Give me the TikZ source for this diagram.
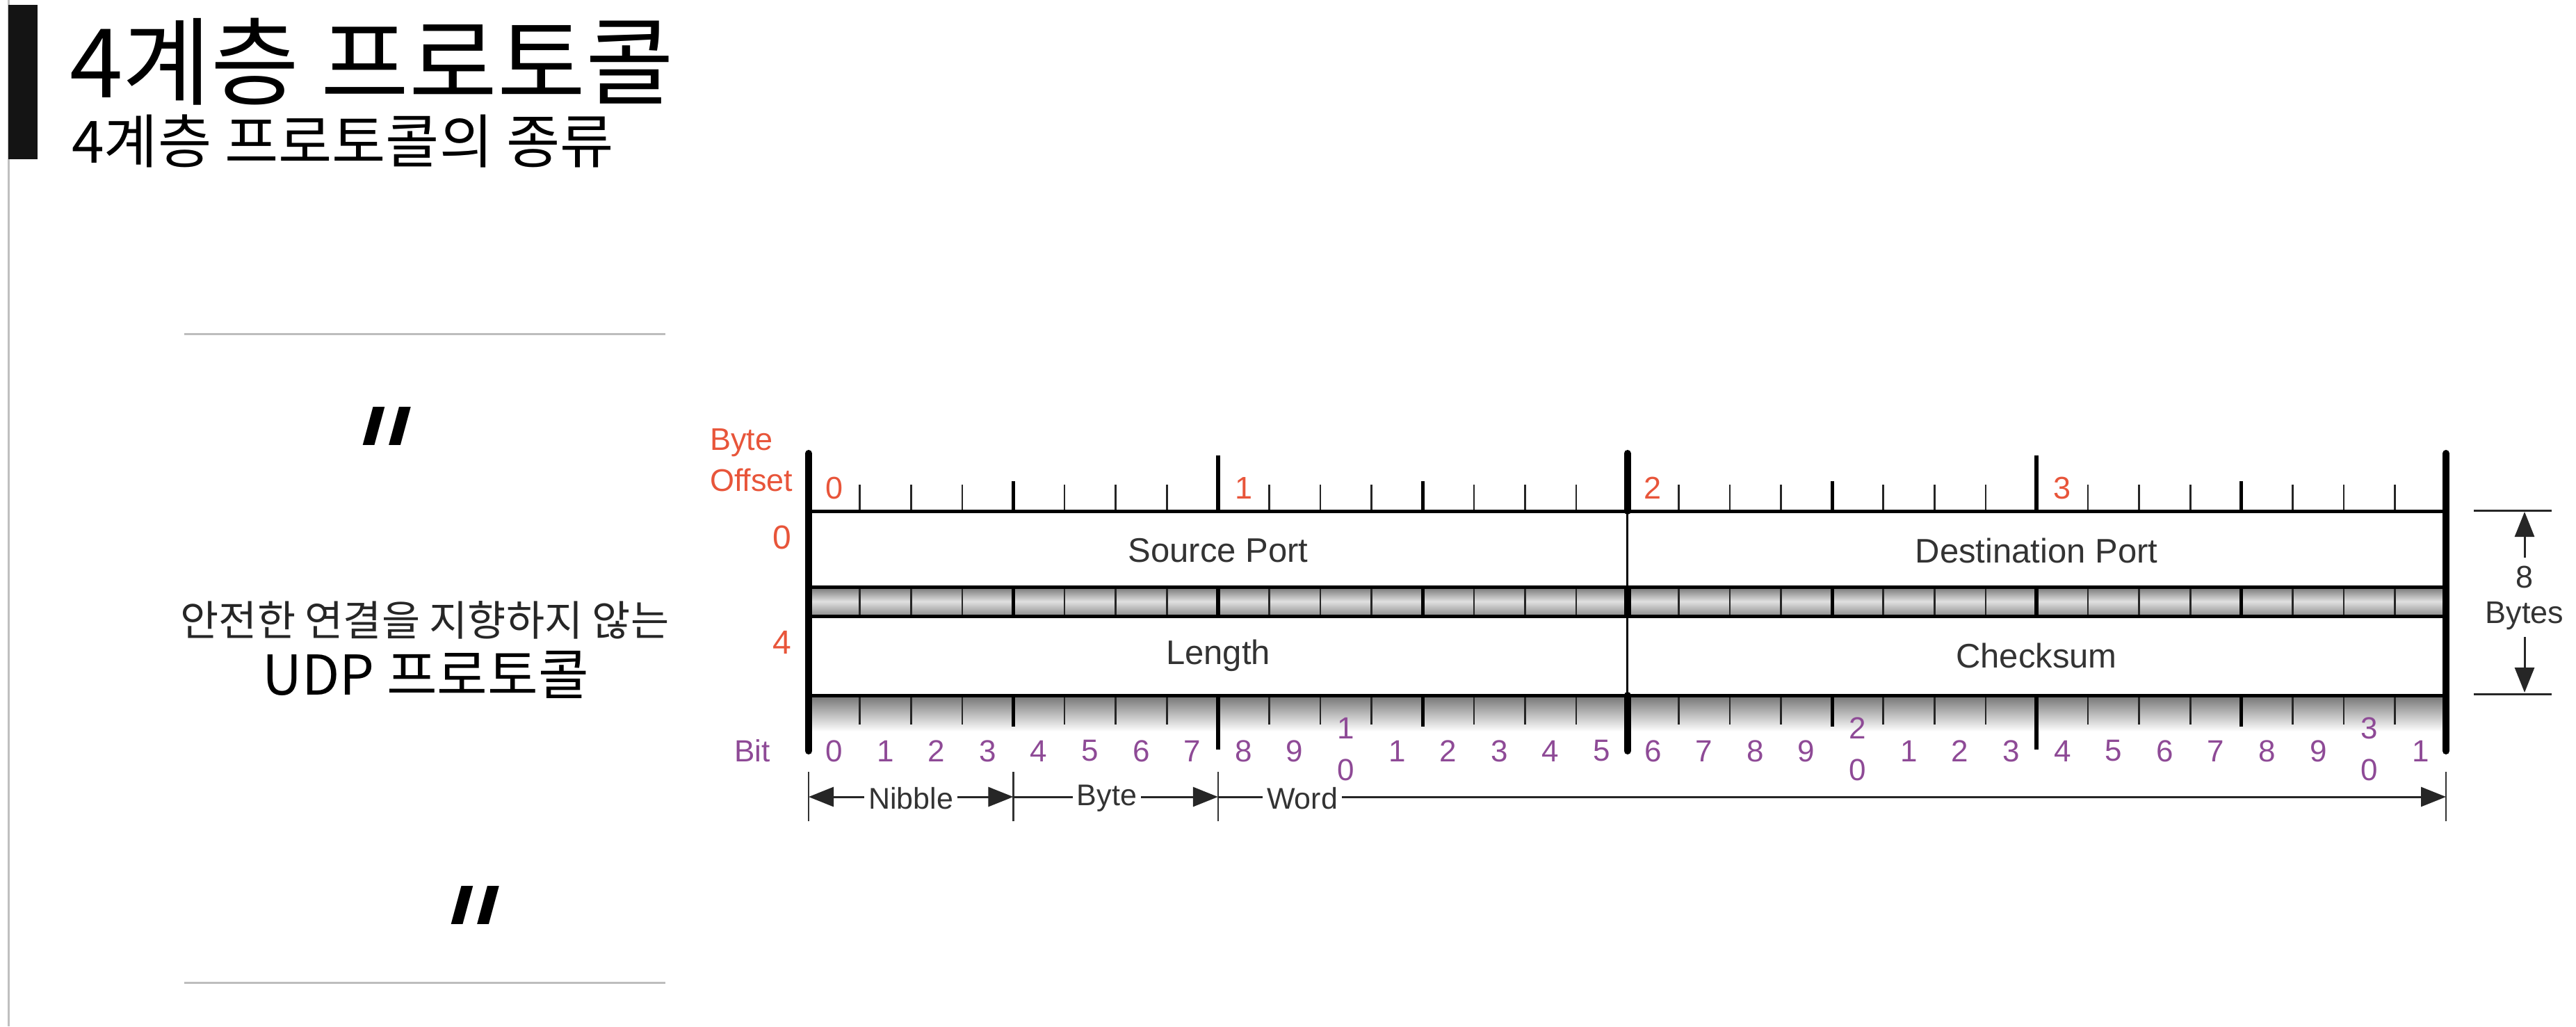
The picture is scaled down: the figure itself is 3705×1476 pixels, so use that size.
\documentclass[tikz,border=0pt]{standalone}
\usepackage{fontspec}
\setmainfont{Liberation Sans}
\newfontfamily\kr{Noto Sans CJK KR}
\newfontfamily\dvq[FakeSlant=0.27]{DejaVu Sans}
\usetikzlibrary{arrows.meta}
\definecolor{offred}{HTML}{E8553A}
\definecolor{bitpur}{HTML}{8E4A96}
\definecolor{txt}{HTML}{333333}
\definecolor{rulegray}{HTML}{BDBDBD}
\begin{document}
\begin{tikzpicture}[x=1pt,y=-1pt,
  wbar/.style={line width=10pt, line cap=round},
  rowline/.style={line width=5pt},
  stick/.style={line width=2.6pt, draw=black!85},
  ntick/.style={line width=5pt},
  btick/.style={line width=6pt},
  thinv/.style={line width=3pt},
  field/.style={inner sep=0pt, text=txt, font=\fontsize{49}{55}\selectfont},
  offlbl/.style={inner sep=0pt, text=offred, font=\fontsize{45}{59}\selectfont},
  bitlbl/.style={inner sep=0pt, text=bitpur, font=\fontsize{44}{50}\selectfont},
  dimlbl/.style={inner sep=6pt, text=txt, font=\fontsize{43}{50}\selectfont},
  arr/.style={line width=3pt, draw=black!85, -{Triangle[length=36pt,width=28pt]}},
  plain/.style={line width=3pt, draw=black!85},
  guide/.style={line width=2.6pt, draw=black!80},
  hrule/.style={line width=3pt, draw=rulegray},
  quote/.style={anchor=base, inner sep=0pt, font=\dvq\fontsize{203}{210}\selectfont},
]
\useasboundingbox (0,0) rectangle (3705,1476);
% left slide decoration
\draw[line width=3pt, draw=black!25] (12.5,0) -- (12.5,1476);
\fill[black!92] (12,7) rectangle (54,229);
% titles
\node[anchor=base west, inner sep=0pt, font=\kr\fontsize{138}{150}\selectfont] (title) at (100,140) {4계층 프로토콜};
\node[anchor=base west, inner sep=0pt, font=\kr\fontsize{84}{92}\selectfont] (subtitle) at (103,234) {4계층 프로토콜의 종류};
% left quote panel
\coordinate (r1a) at (265,480); \coordinate (r1b) at (957,480);
\coordinate (r2a) at (265,1413); \coordinate (r2b) at (957,1413);
\draw[hrule] (r1a) -- (r1b);
\draw[hrule] (r2a) -- (r2b);
\node[quote] (q1) at (524,733) {"};
\node[quote] (q2) at (651,1422) {"};
\node[anchor=base, inner sep=0pt, text=black!85, font=\kr\fontsize{60}{66}\selectfont] (desc) at (611,914) {안전한 연결을 지향하지 않는};
\node[anchor=base, inner sep=0pt, font=\kr\fontsize{79}{85}\selectfont] (udp) at (612,999) {UDP 프로토콜};
% bands
\shade[top color=black!55, bottom color=black!45, middle color=black!12] (1163,844) rectangle (3518,886);
\shade[top color=black!55, bottom color=white] (1163,1000) rectangle (3518,1052);
% ticks
\foreach \i in {1,...,31}{
  \pgfmathsetmacro\xx{1163+73.6*\i}
  \pgfmathtruncatemacro\m{mod(\i,8)}
  \pgfmathtruncatemacro\n{mod(\i,4)}
  \ifnum\i=16\relax\else
    \ifnum\m=0
      \draw[btick] (\xx,655) -- (\xx,735);
      \draw[btick] (\xx,844) -- (\xx,886);
      \draw[btick] (\xx,1000) -- (\xx,1078);
    \else\ifnum\n=0
      \draw[ntick] (\xx,692) -- (\xx,735);
      \draw[ntick] (\xx,844) -- (\xx,886);
      \draw[ntick] (\xx,1000) -- (\xx,1045);
    \else
      \draw[stick] (\xx,697) -- (\xx,735);
      \draw[stick] (\xx,844) -- (\xx,886);
      \draw[stick] (\xx,1000) -- (\xx,1042);
    \fi\fi
  \fi
}
% row lines
\foreach \yy in {735,844,886,1000}{
  \draw[rowline] (1163,\yy) -- (3518,\yy);
}
% middle word bar
\draw[wbar] (2340.6,652) -- (2340.6,735);
\draw[wbar, line cap=butt] (2340.6,844) -- (2340.6,886);
\draw[wbar] (2340.6,1000) -- (2340.6,1080);
\draw[thinv] (2340.6,735) -- (2340.6,1000);
% outer bars
\draw[wbar] (1163,652) -- (1163,1080);
\draw[wbar] (3518,652) -- (3518,1080);
% field labels
\node[field] (sport) at (1752,792) {Source Port};
\node[field] (dport) at (2929,792) {Destination Port};
\node[field] (len) at (1752,943) {Length};
\node[field] (csum) at (2929,943) {Checksum};
% offsets
\node[offlbl, anchor=west, align=left] (boff) at (1021,662) {Byte\\Offset};
\node[offlbl, anchor=east, font=\fontsize{48}{55}\selectfont] (ro0) at (1138,773) {0};
\node[offlbl, anchor=east, font=\fontsize{48}{55}\selectfont] (ro4) at (1138,924) {4};
\foreach \b in {0,1,2,3}{
  \pgfmathsetmacro\xx{1163+73.6*(8*\b+0.5)}
  \node[offlbl] (bo\b) at (\xx,702) {\b};
}
% bit labels
\node[bitlbl, anchor=east] (bitword) at (1108,1080) {Bit};
\foreach \i in {0,...,31}{
  \pgfmathsetmacro\xx{1163+73.6*(\i+0.5)}
  \pgfmathtruncatemacro\d{mod(\i,10)}
  \pgfmathtruncatemacro\t{int(\i/10)}
  \ifnum\d=0
    \ifnum\i>0
      \node[bitlbl] (bt\i) at (\xx,1047) {\t};
      \node[bitlbl] (bb\i) at (\xx,1107) {0};
    \else
      \node[bitlbl] (b\i) at (\xx,1080) {\d};
    \fi
  \else
    \node[bitlbl] (b\i) at (\xx,1080) {\d};
  \fi
}
% 8 bytes dimension
\draw[plain] (3558,734) -- (3670,734);
\draw[plain] (3558,998) -- (3670,998);
\node[inner sep=0pt, text=txt, font=\fontsize{45}{50}\selectfont] (eight) at (3631,830) {8};
\node[inner sep=0pt, text=txt, font=\fontsize{45}{50}\selectfont] (bytes) at (3631,886) {Bytes};
\coordinate (dtop) at (3631,736);
\coordinate (dbot) at (3631,996);
\draw[arr] ([yshift=12pt]eight.north) -- (dtop);
\draw[arr] ([yshift=-10pt]bytes.south) -- (dbot);
% nibble / byte / word guides
\coordinate (g0) at (1163,1146);
\coordinate (g4) at (1457.4,1146);
\coordinate (g8) at (1751.8,1146);
\coordinate (g32) at (3518,1146);
\foreach \c in {g0,g4,g8,g32}{
  \draw[guide] ([yshift=-35pt]\c) -- ([yshift=36pt]\c);
}
\node[dimlbl] (nib) at (1310,1148) {Nibble};
\node[dimlbl] (byt) at (1592,1148) {Byte};
\node[dimlbl] (wrd) at (1873,1148) {Word};
\draw[arr] (nib.west |- g0) -- (g0);
\draw[arr] (nib.east |- g4) -- (g4);
\draw[plain] (g4) -- (byt.west |- g4);
\draw[arr] (byt.east |- g8) -- (g8);
\draw[plain] (g8) -- (wrd.west |- g8);
\draw[arr] (wrd.east |- g32) -- (g32);
\end{tikzpicture}
\end{document}
